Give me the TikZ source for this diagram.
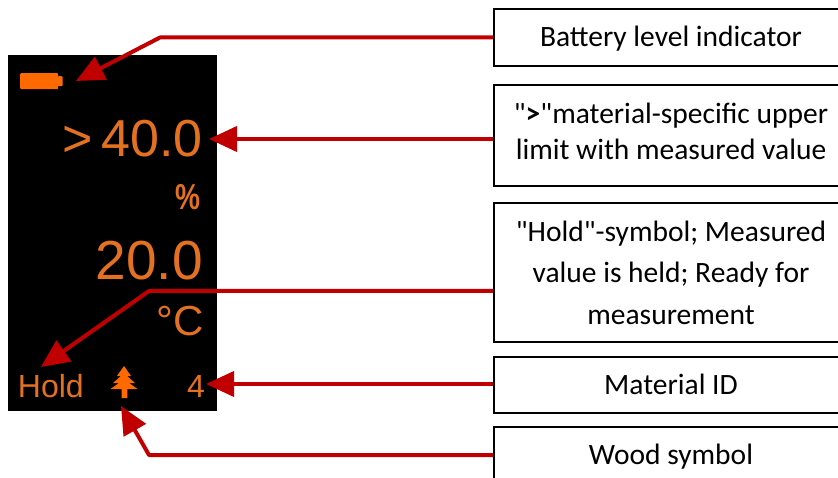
\documentclass[tikz,border=0pt]{standalone}
\usepackage{fontspec}
\newfontfamily\labelfont{Carlito}
\newfontfamily\screenfont{Liberation Sans}
\usepackage{xcolor}
\definecolor{arrowred}{HTML}{C00000}
\definecolor{lcdtext}{HTML}{E4711F}
\definecolor{lcdicon}{HTML}{FF6A00}
\usetikzlibrary{arrows.meta,positioning}
\newcommand{\lcdsize}[1]{\fontsize{#1}{#1}\selectfont\screenfont}
\newcommand{\boxsize}[1]{\fontsize{29.5}{#1}\selectfont\labelfont}

\begin{document}
\begin{tikzpicture}[
  x=1pt, y=-1pt,
  node distance=17.3pt,
  box/.style={draw, line width=2pt, align=center, minimum width=354pt, inner sep=0pt},
  lcd/.style={text=lcdtext, inner sep=0pt, anchor=base east},
  icon/.style={fill=lcdicon, inner sep=0pt, rounded corners=1pt},
  arr/.style={-{Triangle[length=28pt,width=25pt]}, line width=4pt, draw=arrowred, line join=round}
]
\useasboundingbox (0,0) rectangle (838,478);
\clip (0,0) rectangle (838,478);

\node[fill=black, minimum width=209pt, minimum height=356pt, inner sep=0pt, anchor=north west] (screen) at (8,55) {};
\node[icon, minimum width=38pt, minimum height=16pt, anchor=north west] (batt) at (20,73) {};
\node[icon, minimum width=5pt, minimum height=10pt, right=-1pt of batt] (battcap) {};

\node[lcd, font=\lcdsize{52}] (upper) at (203,157) {>\,40.0};
\node[lcd, font=\lcdsize{36}] (pct) at (201,210) {\scalebox{.78}[1]{\bfseries\%}};
\node[lcd, font=\lcdsize{55}] (temp) at (203,280) {20.0};
\node[lcd, font=\lcdsize{42}] (unit) at (204,335) {°C};
\node[lcd, font=\lcdsize{32}] (hold) at (84,397) {Hold};
\node[lcd, font=\lcdsize{32}] (matid) at (205,397) {4};

\fill[lcdicon] (124,366) -- (131,376) -- (127,376) -- (135,383) -- (129,383) -- (137.5,389)
  -- (127.3,389) -- (127.3,398) -- (121.7,398) -- (121.7,389) -- (110.5,389) -- (119,383)
  -- (113,383) -- (121,376) -- (117,376) -- cycle;

\node[box, minimum height=56.5pt, anchor=north west, text depth=3pt, font=\boxsize{36}] (battbox) at (493,8.3) {Battery level indicator};
\node[box, minimum height=101pt, below=of battbox, text depth=9pt, font=\boxsize{36}] (upperbox) {"\textbf{>}"material-specific upper\\limit with measured value};
\node[box, minimum height=138.5pt, below=15.3pt of upperbox, font=\boxsize{41.5}] (holdbox) {"Hold"-symbol; Measured\\value is held; Ready for\\measurement};
\node[box, minimum height=55.7pt, below=13pt of holdbox, font=\boxsize{36}] (idbox) {Material ID};
\node[box, minimum height=60pt, below=12.4pt of idbox, font=\boxsize{36}] (woodbox) {Wood symbol};

\coordinate (batttip) at (76,81);
\coordinate (battbend) at (160,37.5);
\coordinate (uppertip) at (209,139);
\coordinate (holdtip) at (41,367);
\coordinate (holdbend) at (149,291);
\coordinate (idtip) at (206,384);
\coordinate (woodtip) at (121,406);
\coordinate (woodbend) at (149,455);

\draw[arr] (battbox.west |- battbend) -- (battbend) -- (batttip);
\draw[arr] (upperbox.west |- uppertip) -- (uppertip);
\draw[arr] (holdbox.west |- holdbend) -- (holdbend) -- (holdtip);
\draw[arr] (idbox.west |- idtip) -- (idtip);
\draw[arr] (woodbox.west |- woodbend) -- (woodbend) -- (woodtip);
\end{tikzpicture}
\end{document}
